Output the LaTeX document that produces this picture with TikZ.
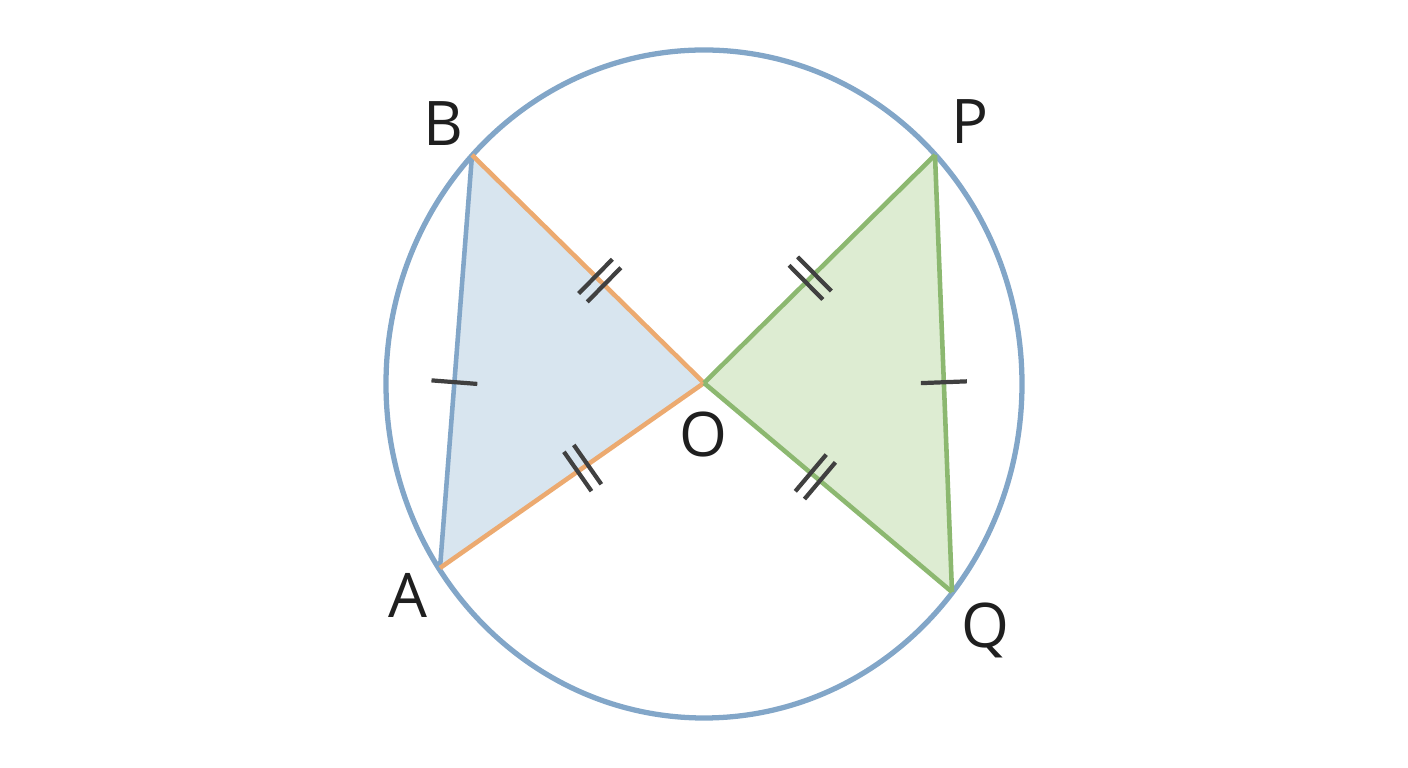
\documentclass[tikz,border=0pt]{standalone}
\usepackage{fontspec}
\setsansfont{Open Sans}
\usetikzlibrary{decorations.markings}
\definecolor{circblue}{RGB}{130,166,200}
\definecolor{edgeorange}{RGB}{236,170,112}
\definecolor{edgegreen}{RGB}{140,184,112}
\definecolor{fillblue}{RGB}{216,229,239}
\definecolor{fillgreen}{RGB}{221,236,210}
\definecolor{tickgray}{RGB}{64,64,64}
\tikzset{
  onetick/.style={postaction={decorate,decoration={markings,
      mark=at position #1 with {\draw[tickgray,line width=1.2pt] (0,-0.23)--(0,0.23);}}}},
  twotick/.style={postaction={decorate,decoration={markings,
      mark=at position #1 with {\draw[tickgray,line width=1.2pt] (-0.06,-0.24)--(-0.06,0.24);
                                \draw[tickgray,line width=1.2pt] (0.06,-0.24)--(0.06,0.24);}}}},
  edge/.style={line width=1.3pt,line join=round},
  ptlabel/.style={font=\sffamily\fontsize{17.5}{20}\selectfont,text=black!88}
}
\begin{document}
\begin{tikzpicture}
\useasboundingbox (0,0) rectangle (14.08,7.68);
%\draw[step=1cm,gray,very thin] (0,0) grid (14,7);
\coordinate (O) at (7.04,3.85);
\coordinate (B) at (4.72,6.13);
\coordinate (A) at (4.40,2.00);
\coordinate (P) at (9.35,6.13);
\coordinate (Q) at (9.52,1.76);
% triangles
\fill[fillblue] (A)--(B)--(O)--cycle;
\fill[fillgreen] (P)--(Q)--(O)--cycle;
% circle
\draw[circblue,line width=1.5pt] (7.04,3.84) ellipse (3.18 and 3.34);
% sides
\draw[edge,circblue,onetick=0.45] (A)--(B);
\draw[edge,edgeorange,twotick=0.45] (O)--(B);
\draw[edge,edgeorange,twotick=0.46] (O)--(A);
\draw[edge,edgegreen,onetick=0.48] (Q)--(P);
\draw[edge,edgegreen,twotick=0.46] (O)--(P);
\draw[edge,edgegreen,twotick=0.45] (O)--(Q);
% labels
\node[ptlabel] (lB) at (4.43,6.44) {B};
\node[ptlabel] (lP) at (9.70,6.46) {P};
\node[ptlabel] (lA) at (4.08,1.73) {A};
\node[ptlabel] (lQ) at (9.85,1.38) {Q};
\node[ptlabel] (lO) at (7.03,3.33) {O};
\end{tikzpicture}
\end{document}
